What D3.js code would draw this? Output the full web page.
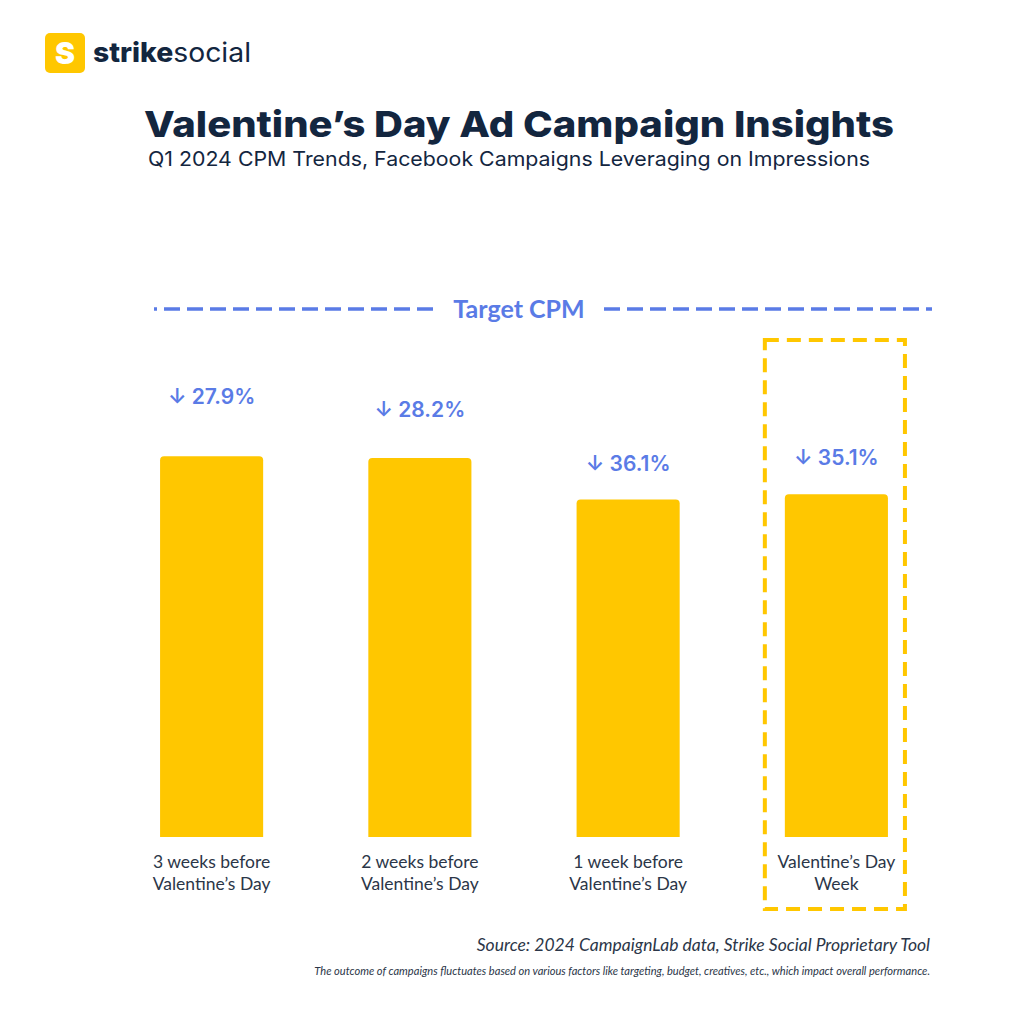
<!DOCTYPE html>
<html>
<head>
<meta charset="utf-8">
<script src="https://cdn.jsdelivr.net/npm/d3@7"></script>
<style>
  html, body { margin: 0; padding: 0; background: #ffffff; }
  svg { display: block; }
</style>
</head>
<body>
<svg id="chart" width="1024" height="1024"></svg>
<script>
// ---- data ----
const categories = [
  ["3 weeks before", "Valentine’s Day"],
  ["2 weeks before", "Valentine’s Day"],
  ["1 week before", "Valentine’s Day"],
  ["Valentine’s Day", "Week"]
];
const decreases = [27.9, 28.2, 36.1, 35.1];          // % below target CPM
const values = decreases.map(d => 100 - d);           // CPM as % of target
const targetValue = 100;
const highlightIndex = 3;

// ---- layout / style ----
const labelGap = [52, 41, 29, 29];
const navy = "#13263f";
const textGrey = "#2b3648";
const blue = "#5a7be6";
const yellow = "#FFC700";

const svg = d3.select("#chart");
svg.append("rect").attr("width", 1024).attr("height", 1024).attr("fill", "#fff");

// logo
const logo = svg.append("g");
logo.append("rect").attr("x", 45).attr("y", 33).attr("width", 40).attr("height", 40)
  .attr("rx", 5).attr("fill", yellow);
logo.append("text").attr("x", 65).attr("y", 64).attr("text-anchor", "middle")
  .attr("font-family", "Inter, 'Noto Sans', sans-serif").attr("font-weight", 900)
  .attr("font-size", 30).attr("fill", "#fff").text("S");
const lt = logo.append("text").attr("x", 93).attr("y", 62)
  .attr("font-family", "Inter, 'Noto Sans', sans-serif").attr("font-size", 27)
  .attr("fill", navy).attr("textLength", 158).attr("lengthAdjust", "spacingAndGlyphs");
lt.append("tspan").attr("font-weight", 800).text("strike");
lt.append("tspan").attr("font-weight", 400).text("social");

// title
svg.append("text").attr("x", 519).attr("y", 137).attr("text-anchor", "middle")
  .attr("font-family", "Inter, 'Noto Sans', sans-serif").attr("font-weight", 800)
  .attr("font-size", 36).attr("fill", navy)
  .attr("textLength", 750).attr("lengthAdjust", "spacingAndGlyphs")
  .text("Valentine’s Day Ad Campaign Insights");
svg.append("text").attr("x", 509).attr("y", 166).attr("text-anchor", "middle")
  .attr("font-family", "Inter, 'Noto Sans', sans-serif").attr("font-weight", 400)
  .attr("font-size", 20).attr("fill", navy)
  .attr("textLength", 722).attr("lengthAdjust", "spacingAndGlyphs")
  .text("Q1 2024 CPM Trends, Facebook Campaigns Leveraging on Impressions");

// scales
const x = d3.scaleBand().domain(d3.range(categories.length)).range([108, 940]).paddingInner(0.505).paddingOuter(0.25);
const y = d3.scaleLinear().domain([0, targetValue]).range([837, 309]);

// target line
const ty = y(targetValue);
const dashStyle = sel => sel.attr("stroke", blue).attr("stroke-width", 3.4).attr("stroke-dasharray", "16 7");
svg.append("line").attr("x1", 154).attr("x2", 433).attr("y1", ty).attr("y2", ty).call(dashStyle)
  .attr("stroke-dashoffset", 13);
svg.append("line").attr("x1", 604).attr("x2", 932).attr("y1", ty).attr("y2", ty).call(dashStyle);
svg.append("text").attr("x", 519).attr("y", ty + 9).attr("text-anchor", "middle")
  .attr("font-family", "Lato, sans-serif").attr("font-weight", 700).attr("font-size", 25)
  .attr("fill", blue).text("Target CPM");

// highlight box
const hb = x(highlightIndex);
svg.append("rect").attr("x", hb - 20).attr("y", 340).attr("width", x.bandwidth() + 37).attr("height", 569)
  .attr("fill", "none").attr("stroke", yellow).attr("stroke-width", 4).attr("stroke-dasharray", "14 8");

// bars
const bars = svg.append("g");
values.forEach((v, i) => {
  const x0 = x(i), w = x.bandwidth(), top = y(v), bottom = y(0), r = 4;
  bars.append("path")
    .attr("d", `M${x0},${bottom} V${top + r} Q${x0},${top} ${x0 + r},${top} H${x0 + w - r} Q${x0 + w},${top} ${x0 + w},${top + r} V${bottom} Z`)
    .attr("fill", yellow);
  svg.append("text").attr("x", x0 + w / 2).attr("y", top - labelGap[i]).attr("text-anchor", "middle")
    .attr("font-family", "Inter, 'Noto Sans', sans-serif").attr("font-weight", 600).attr("font-size", 21)
    .attr("fill", blue).text(`↓ ${decreases[i]}%`);
  const t = svg.append("text").attr("text-anchor", "middle")
    .attr("font-family", "Lato, sans-serif").attr("font-size", 17.5).attr("fill", textGrey);
  categories[i].forEach((line, k) => {
    t.append("tspan").attr("x", x0 + w / 2).attr("y", 868 + k * 22).text(line);
  });
});

// source + note
svg.append("text").attr("x", 930).attr("y", 951).attr("text-anchor", "end")
  .attr("font-family", "Lato, sans-serif").attr("font-style", "italic").attr("font-size", 17.5)
  .attr("fill", textGrey).text("Source: 2024 CampaignLab data, Strike Social Proprietary Tool");
svg.append("text").attr("x", 930).attr("y", 975).attr("text-anchor", "end")
  .attr("font-family", "Lato, sans-serif").attr("font-style", "italic").attr("font-size", 11.1)
  .attr("fill", textGrey)
  .text("The outcome of campaigns fluctuates based on various factors like targeting, budget, creatives, etc., which impact overall performance.");
</script>
</body>
</html>
